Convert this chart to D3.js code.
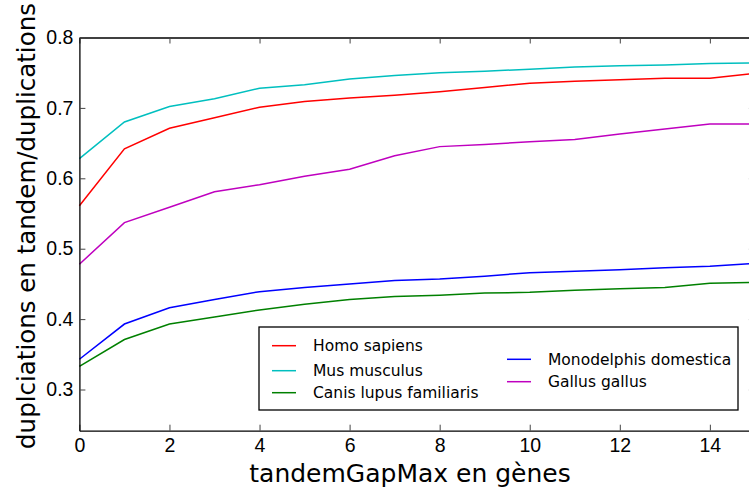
<!DOCTYPE html>
<html>
<head>
<meta charset="utf-8">
<script src="https://cdn.jsdelivr.net/npm/d3@7"></script>
<style>
  body { margin: 0; background: #fff; }
  svg { display: block; font-family: "DejaVu Sans", Verdana, sans-serif; }
</style>
</head>
<body>
<svg></svg>
<script>
/* data */
var gaps = [0, 1, 2, 3, 4, 5, 6, 7, 8, 9, 10, 11, 12, 13, 14, 15];
var species = ["Homo sapiens", "Mus musculus", "Canis lupus familiaris", "Monodelphis domestica", "Gallus gallus"];
var colors = ["#ff0000", "#00bfbf", "#008000", "#0000ff", "#bf00bf"];
var homo = [0.561, 0.642, 0.671, 0.686, 0.701, 0.709, 0.714, 0.718, 0.723, 0.729, 0.735, 0.738, 0.740, 0.742, 0.742, 0.749];
var mus = [0.628, 0.680, 0.702, 0.713, 0.728, 0.733, 0.741, 0.746, 0.750, 0.752, 0.755, 0.758, 0.760, 0.761, 0.763, 0.764];
var canis = [0.333, 0.371, 0.393, 0.403, 0.413, 0.421, 0.428, 0.432, 0.434, 0.437, 0.438, 0.441, 0.443, 0.445, 0.451, 0.452];
var mono = [0.343, 0.393, 0.416, 0.428, 0.439, 0.445, 0.450, 0.455, 0.457, 0.461, 0.466, 0.468, 0.470, 0.473, 0.475, 0.479];
var gallus = [0.478, 0.537, 0.559, 0.581, 0.591, 0.603, 0.613, 0.632, 0.645, 0.648, 0.652, 0.655, 0.663, 0.670, 0.677, 0.677];
var series = [homo, mus, canis, mono, gallus];
var xTicks = [0, 2, 4, 6, 8, 10, 12, 14];
var yTicks = [0.3, 0.4, 0.5, 0.6, 0.7, 0.8];

/* svg setting */
var svgWidth = 749;
var svgHeight = 488;
var plot = {left: 79.4, top: 37.5, right: 754.9, bottom: 430.7};

var svg = d3.select("svg")
    .attr("width", svgWidth)
    .attr("height", svgHeight);

var scale = {};
scale.x = d3.scaleLinear().domain([0, 15]).range([plot.left, plot.right]);
scale.y = d3.scaleLinear().domain([0.2415, 0.8]).range([plot.bottom, plot.top]);

/* lines */
var line = d3.line()
    .x(function(d, i){ return scale.x(gaps[i]); })
    .y(function(d){ return scale.y(d); });

svg.append("g").selectAll("path")
    .data(series)
    .enter()
    .append("path")
    .attr("d", line)
    .attr("fill", "none")
    .attr("stroke", function(d, i){ return colors[i]; })
    .attr("stroke-width", 1.5);

/* axes, ticks pointing inward */
function drawAxis(axis, tx, ty, cls){
  var g = svg.append("g")
      .attr("class", cls)
      .attr("transform", translate(tx, ty))
      .call(axis);
  g.select(".domain").attr("stroke", "#000").attr("stroke-width", 1.3);
  g.selectAll(".tick line").attr("stroke", "#444").attr("stroke-width", 1);
  g.selectAll(".tick text").attr("fill", "#000").style("font-size", "19.5px");
  return g;
}

drawAxis(d3.axisBottom(scale.x).tickValues(xTicks).tickSizeInner(-6).tickSizeOuter(0).tickPadding(7), 0, plot.bottom, "x_axis");
drawAxis(d3.axisTop(scale.x).tickValues(xTicks).tickSizeInner(-6).tickSizeOuter(0).tickFormat(""), 0, plot.top, "x_top");
drawAxis(d3.axisLeft(scale.y).tickValues(yTicks).tickSizeInner(-6).tickSizeOuter(0).tickPadding(6).tickFormat(d3.format(".1f")), plot.left, 0, "y_axis");
drawAxis(d3.axisRight(scale.y).tickValues(yTicks).tickSizeInner(-6).tickSizeOuter(0).tickFormat(""), plot.right, 0, "y_right");

/* axis labels */
svg.append("text")
    .attr("x", 410)
    .attr("y", 482)
    .attr("text-anchor", "middle")
    .style("font-size", "25px")
    .text("tandemGapMax en gènes");

svg.append("text")
    .attr("transform", translate(35, 226) + " rotate(-90)")
    .attr("text-anchor", "middle")
    .style("font-size", "24.5px")
    .text("duplciations en tandem/duplications");

/* legend */
var legend = svg.append("g");
legend.append("rect")
    .attr("x", 259).attr("y", 327)
    .attr("width", 479).attr("height", 83)
    .attr("fill", "#fff").attr("stroke", "#000").attr("stroke-width", 1.3);

var legendPos = [[272, 345.7], [272, 370.7], [272, 392.7], [507, 359.3], [507, 381.7]];
var items = legend.selectAll("g.item")
    .data(species)
    .enter()
    .append("g")
    .attr("class", "item")
    .attr("transform", function(d, i){ return translate(legendPos[i][0], legendPos[i][1]); });
items.append("line")
    .attr("x1", 0).attr("x2", 24)
    .attr("stroke", function(d, i){ return colors[i]; })
    .attr("stroke-width", 1.5);
items.append("text")
    .attr("x", 41).attr("dy", "0.35em")
    .style("font-size", "15.5px")
    .text(function(d){ return d; });

function translate(x, y) {
    return "translate(" + x + "," + y + ")";
}
</script>
</body>
</html>
